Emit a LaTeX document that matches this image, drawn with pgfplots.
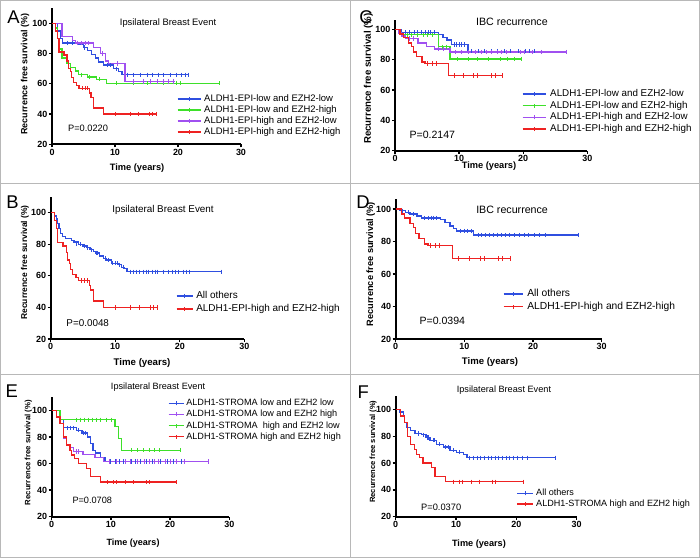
\documentclass[border=0pt]{standalone}
\usepackage{fontspec}
\setmainfont{Liberation Sans}
\usepackage{pgfplots}
\pgfplotsset{compat=1.18}
\definecolor{kmblue}{HTML}{2F4FE0}
\definecolor{kmgreen}{HTML}{3EE02A}
\definecolor{kmpurple}{HTML}{A050F0}
\definecolor{kmred}{HTML}{EE2222}
\definecolor{frame}{HTML}{B8B8B8}
\newcommand{\fs}[1]{\fontsize{#1}{#1}\selectfont}
\pgfplotsset{
 km/.style={
  scale only axis, anchor=south west,
  xmin=0,xmax=30,ymin=20,
  axis lines=left,
  axis line style={-, line width=1.9bp, black},
  xtick={0,10,20,30}, ytick={20,40,60,80,100},
  tick align=outside, major tick length=3bp,
  every tick/.style={black, line width=1.3bp},
  minor tick num=0,
  tick label style={font=\fs{9}\bfseries},
  /pgf/number format/assume math mode=true,
  xticklabel style={inner sep=1.5bp},
  yticklabel style={inner sep=1.5bp},
  every axis title shift=0pt,
  title style={anchor=center},
  xlabel style={anchor=center},
  ylabel style={anchor=center},
  clip=false,
  legend cell align=left,
  legend style={draw=none, fill=none, inner sep=0pt, outer sep=0pt, anchor=north west,
    nodes={inner sep=0pt, text height=7bp, text depth=2bp}},
 },
 kmleg/.style 2 args={
  legend image code/.code={\draw[##1] (0bp,0bp) -- (#1,0bp); \draw[##1,line width=0.9bp] (#1/2,-2bp) -- (#1/2,2bp);},
  legend style={column sep=#2},
 },
 kml/.style={const plot, line width=1.3bp, mark=none, color=#1},
 cens/.style={only marks, mark=|, mark size=2.1bp, mark options={line width=0.9bp}, color=#1, forget plot},
}
\begin{document}
\begin{tikzpicture}
\useasboundingbox (0,0) rectangle (700bp,-558bp);
\fill[white] (0,0) rectangle (700bp,-558bp);
\draw[frame, line width=1bp] (0.5bp,-0.5bp) rectangle (699.5bp,-557.5bp);
\draw[frame, line width=1bp] (0,-183bp) -- (700bp,-183bp);
\draw[frame, line width=1bp] (0,-374bp) -- (700bp,-374bp);
\draw[frame, line width=1bp] (350bp,0) -- (350bp,-558bp);

% ---------------- Panel A ----------------
\begin{axis}[km, at={(52bp,-144.3bp)}, width=189bp, height=136.1bp, ymax=110,
  kmleg={23bp}{3bp},
  title={\fs{9.4}Ipsilateral Breast Event}, title style={at={(axis description cs:0.614,0.891)}},
  xlabel={\fs{9.3}\bfseries Time (years)}, xlabel style={at={(axis description cs:0.45,0)}, yshift=-23.7bp},
  ylabel={\fs{9}\bfseries Recurrence free survival (\%)}, ylabel style={at={(axis description cs:-0.143,0.515)}},
  legend style={at={(axis description cs:0.661,0.366)}, row sep=2bp, font=\fs{9.5}},
]
\addplot[kml=kmblue] coordinates {(0,100)(0.9,95)(1.3,90)(1.7,87)(4.1,86)(5.0,84)(5.6,82)(6.3,79.5)(6.9,77)(7.4,74.5)(8.2,72.5)(9.8,70)(10.6,68)(11.1,66)(21.7,66)};
\addlegendentry{ALDH1-EPI-low and EZH2-low}
\addplot[kml=kmgreen] coordinates {(0,100)(0.5,97)(0.9,90)(1.2,83)(1.6,77)(2.4,73.5)(2.9,71)(3.7,68.5)(4.2,66)(5.6,64.5)(7.1,63)(8.7,60.3)(26.5,60.3)};
\addlegendentry{ALDH1-EPI-low and EZH2-high}
\addplot[kml=kmpurple] coordinates {(0,100)(1.6,91.5)(3.2,88.5)(3.7,87)(6.6,84)(7.7,80)(8.5,75)(9.0,73.5)(11.6,61.5)(19.6,61.5)};
\addlegendentry{ALDH1-EPI-high and EZH2-low}
\addplot[kml=kmred] coordinates {(0,100)(0.6,95)(0.9,90)(1.1,81)(1.9,79)(2.4,75)(2.6,70)(2.9,68)(3.1,64)(3.4,61)(3.9,59)(4.3,57)(6.0,54)(6.2,51)(6.6,44)(8.2,40)(16.6,40)};
\addlegendentry{ALDH1-EPI-high and EZH2-high}
\addplot[cens=kmblue] coordinates {(2.5,87)(3.2,87)(5.2,84)(8.8,72.5)(9.3,72.5)(10.2,70)(11.9,66)(13.0,66)(14.0,66)(15.1,66)(15.9,66)(16.9,66)(17.7,66)(18.8,66)(19.8,66)(20.6,66)(21.2,66)(21.7,66)};
\addplot[cens=kmgreen] coordinates {(4.6,66)(6.0,64.5)(7.5,63)(10.3,60.3)(13.0,60.3)(15.1,60.3)(17.7,60.3)(19.8,60.3)(20.4,60.3)(26.5,60.3)};
\addplot[cens=kmpurple] coordinates {(4.0,87)(4.6,87)(5.3,87)(5.8,87)(8.0,80)(10.4,73.5)(12.9,61.5)(14.5,61.5)(15.6,61.5)(16.7,61.5)(17.7,61.5)(18.5,61.5)(19.3,61.5)};
\addplot[cens=kmred] coordinates {(4.8,57)(5.3,57)(5.7,57)(10.0,40)(12.4,40)(13.8,40)(15.5,40)(15.9,40)(16.6,40)};
\node[anchor=west, font=\fs{9.3}] at (axis cs:2.0,30.8) {P=0.0220};
\end{axis}

% ---------------- Panel B ----------------
\begin{axis}[km, at={(50.7bp,-339bp)}, width=193.6bp, height=142.1bp, ymax=110,
  kmleg={16bp}{3bp},
  title={\fs{9.9}Ipsilateral Breast Event}, title style={at={(axis description cs:0.58,0.908)}},
  xlabel={\fs{9.7}\bfseries Time (years)}, xlabel style={at={(axis description cs:0.472,0)}, yshift=-23.7bp},
  ylabel={\fs{8.5}\bfseries Recurrence free survival (\%)}, ylabel style={at={(axis description cs:-0.133,0.539)}},
  legend style={at={(axis description cs:0.647,0.335)}, row sep=4bp, font=\fs{10}},
]
\addplot[kml=kmblue] coordinates {(0,100)(0.6,98)(0.9,96)(1.1,93)(1.3,90)(1.5,87)(1.8,85)(2.3,83.7)(3.2,82.5)(3.6,81.5)(4.3,80)(5.0,79)(5.5,78)(6.1,76.5)(6.6,75.5)(6.9,74.5)(7.6,72.5)(8.2,71)(8.7,70)(9.4,68)(10.5,67)(11.0,65.5)(11.4,64.5)(11.8,62.6)(26.5,62.6)};
\addlegendentry{All others}
\addplot[kml=kmred] coordinates {(0,100)(0.6,95)(0.9,90)(1.1,81)(1.9,79)(2.4,75)(2.6,70)(2.9,68)(3.1,64)(3.4,61)(3.9,59)(4.3,57)(6.0,54)(6.2,51)(6.6,44)(8.2,40)(16.6,40)};
\addlegendentry{ALDH1-EPI-high and EZH2-high}
\addplot[cens=kmblue] coordinates {(4.0,80)(4.6,80)(5.2,79)(5.7,78)(6.3,76.5)(7.1,74.5)(7.3,74.5)(8.5,71)(9.0,70)(9.6,68)(10.0,68)(10.3,68)(10.7,67)(11.2,65.5)(12.3,62.6)(12.8,62.6)(13.3,62.6)(13.8,62.6)(14.3,62.6)(14.8,62.6)(15.2,62.6)(15.7,62.6)(16.2,62.6)(16.6,62.6)(17.5,62.6)(18.2,62.6)(18.8,62.6)(19.3,62.6)(19.8,62.6)(20.5,62.6)(21.0,62.6)(21.5,62.6)(26.5,62.6)};
\addplot[cens=kmred] coordinates {(4.8,57)(5.3,57)(5.7,57)(10.0,40)(12.4,40)(13.8,40)(15.5,40)(15.9,40)(16.6,40)};
\node[anchor=west, font=\fs{9.9}] at (axis cs:1.9,30.3) {P=0.0048};
\end{axis}

% ---------------- Panel C ----------------
\begin{axis}[km, at={(395bp,-150.7bp)}, width=192.3bp, height=130.5bp, ymax=106,
  kmleg={23bp}{4bp},
  title={\fs{10.7}IBC recurrence}, title style={at={(axis description cs:0.608,0.986)}},
  xlabel={\fs{9.3}\bfseries Time (years)}, xlabel style={at={(axis description cs:0.489,0)}, yshift=-15.3bp},
  ylabel={\fs{9.7}\bfseries Recurrence free survival (\%)}, ylabel style={at={(axis description cs:-0.139,0.552)}},
  legend style={at={(axis description cs:0.660,0.469)}, row sep=2.7bp, font=\fs{9.85}},
]
\addplot[kml=kmblue] coordinates {(0,100)(1.0,98)(6.8,96.5)(7.5,94.5)(8.1,93)(8.8,90)(11.4,85.5)(21.8,85.5)};
\addlegendentry{ALDH1-EPI-low and EZH2-low}
\addplot[kml=kmgreen] coordinates {(0,100)(0.8,96.5)(6.8,88.5)(8.6,80.5)(19.8,80.5)};
\addlegendentry{ALDH1-EPI-low and EZH2-high}
\addplot[kml=kmpurple] coordinates {(0,100)(0.5,97.5)(1.0,95.5)(1.6,94)(3.6,91)(4.9,88.5)(6.2,87)(8.6,85)(26.8,85)};
\addlegendentry{ALDH1-EPI-high and EZH2-low}
\addplot[kml=kmred] coordinates {(0,100)(0.8,97)(1.3,94.5)(2.1,91)(2.6,88.5)(2.9,85)(3.4,82)(4.2,78.5)(4.7,77.5)(8.3,69.5)(16.7,69.5)};
\addlegendentry{ALDH1-EPI-high and EZH2-high}
\addplot[cens=kmblue] coordinates {(1.6,98)(2.2,98)(3.0,98)(3.5,98)(4.2,98)(4.8,98)(5.2,98)(5.6,98)(6.2,98)(9.2,90)(9.6,90)(10.0,90)(10.4,90)(10.8,90)(12.0,85.5)(13.0,85.5)(14.0,85.5)(15.0,85.5)(16.0,85.5)(17.0,85.5)(18.0,85.5)(19.2,85.5)(20.4,85.5)(21.0,85.5)(21.8,85.5)};
\addplot[cens=kmgreen] coordinates {(2.0,96.5)(2.6,96.5)(3.5,96.5)(4.4,96.5)(5.0,96.5)(5.9,96.5)(7.4,88.5)(8.0,88.5)(9.8,80.5)(11.5,80.5)(12.8,80.5)(14.5,80.5)(16.4,80.5)(17.6,80.5)(18.7,80.5)(19.8,80.5)};
\addplot[cens=kmpurple] coordinates {(2.3,94)(2.8,94)(6.8,87)(7.5,87)(9.5,85)(10.4,85)(11.5,85)(12.5,85)(13.5,85)(14.2,85)(15.0,85)(16.0,85)(16.6,85)(17.4,85)(19.5,85)(20.2,85)(21.5,85)(22.8,85)(26.8,85)};
\addplot[cens=kmred] coordinates {(5.0,77.5)(5.8,77.5)(6.4,77.5)(9.2,69.5)(10.7,69.5)(12.3,69.5)(12.9,69.5)(15.0,69.5)(15.6,69.5)(16.7,69.5)};
\node[anchor=west, font=\fs{10.6}] at (axis cs:1.72,30.3) {P=0.2147};
\end{axis}

% ---------------- Panel D ----------------
\begin{axis}[km, at={(395.7bp,-339bp)}, width=206bp, height=139.75bp, ymax=106,
  kmleg={19bp}{4bp},
  title={\fs{10.7}IBC recurrence}, title style={at={(axis description cs:0.565,0.923)}},
  xlabel={\fs{9.6}\bfseries Time (years)}, xlabel style={at={(axis description cs:0.458,0)}, yshift=-22.7bp},
  ylabel={\fs{9.25}\bfseries Recurrence free survival (\%)}, ylabel style={at={(axis description cs:-0.121,0.535)}},
  legend style={at={(axis description cs:0.521,0.354)}, row sep=3.7bp, font=\fs{10.3}},
]
\addplot[kml=kmblue] coordinates {(0,100)(0.6,99)(1.4,98)(2.1,97)(3.1,95.7)(3.8,94.5)(6.5,93.5)(7.2,91.5)(7.9,89.5)(8.4,88)(8.9,86.5)(11.3,84)(26.6,84)};
\addlegendentry{All others}
\addplot[kml=kmred] coordinates {(0,100)(0.8,97)(1.3,94.5)(2.1,91)(2.6,88.5)(2.9,85)(3.4,82)(4.2,78.5)(4.7,77.5)(8.3,69.5)(16.7,69.5)};
\addlegendentry{ALDH1-EPI-high and EZH2-high}
\addplot[cens=kmblue] coordinates {(1.0,99)(1.8,98)(2.6,97)(4.2,94.5)(4.7,94.5)(5.2,94.5)(5.5,94.5)(6.0,94.5)(9.5,86.5)(10.0,86.5)(10.5,86.5)(11.0,86.5)(12.0,84)(12.5,84)(13.0,84)(13.6,84)(14.2,84)(14.8,84)(15.4,84)(16.0,84)(16.6,84)(17.3,84)(18.0,84)(18.7,84)(19.4,84)(20.2,84)(21.0,84)(21.8,84)(26.6,84)};
\addplot[cens=kmred] coordinates {(5.0,77.5)(5.8,77.5)(6.4,77.5)(9.2,69.5)(10.7,69.5)(12.3,69.5)(12.9,69.5)(15.0,69.5)(15.6,69.5)(16.7,69.5)};
\node[anchor=west, font=\fs{10.6}] at (axis cs:2.96,31.1) {P=0.0394};
\end{axis}

% ---------------- Panel E ----------------
\begin{axis}[km, at={(51.7bp,-516.7bp)}, width=177.6bp, height=119.7bp, ymax=110,
  kmleg={15bp}{2bp},
  title={\fs{9.2}Ipsilateral Breast Event}, title style={at={(axis description cs:0.599,1.086)}},
  xlabel={\fs{9.05}\bfseries Time (years)}, xlabel style={at={(axis description cs:0.458,0)}, yshift=-26bp},
  ylabel={\fs{7.8}\bfseries Recurrence free survival (\%)}, ylabel style={at={(axis description cs:-0.132,0.536)}},
  legend style={at={(axis description cs:0.655,0.985)}, row sep=2.1bp, font=\fs{9.15}},
]
\addplot[kml=kmblue] coordinates {(0,100)(1.4,93)(2.0,87)(4.2,85)(5.1,83)(6.0,80)(6.5,75)(7.0,70)(7.4,68)(8.2,64.5)(9.0,61.5)(21.9,61.5)};
\addlegendentry{ALDH1-STROMA low and EZH2 low}
\addplot[kml=kmpurple] coordinates {(0,100)(0.8,95)(1.4,90)(2.0,79)(2.5,74.5)(3.1,72)(3.7,69)(5.3,67)(7.3,64.5)(8.7,61.5)(26.4,61.5)};
\addlegendentry{ALDH1-STROMA low and EZH2 high}
\addplot[kml=kmgreen] coordinates {(0,100)(1.4,93)(10.7,88)(11.3,79)(11.8,70)(21.7,70)};
\addlegendentry{ALDH1-STROMA\ \ high and EZH2 low}
\addplot[kml=kmred] coordinates {(0,100)(0.8,95)(1.4,90)(2.0,80)(2.5,74)(3.1,70)(3.4,66.5)(3.9,64)(4.5,60)(5.9,56.5)(6.5,50)(8.2,46)(21.1,46)};
\addlegendentry{ALDH1-STROMA high and EZH2 high}
\addplot[cens=kmblue] coordinates {(2.6,87)(3.2,87)(3.6,87)(4.6,85)(5.4,83)(5.7,83)(10.0,61.5)(10.8,61.5)(11.5,61.5)(12.2,61.5)(13.5,61.5)(14.2,61.5)(15.0,61.5)(16.0,61.5)(17.0,61.5)(18.3,61.5)(19.5,61.5)(20.5,61.5)(21.9,61.5)};
\addplot[cens=kmpurple] coordinates {(4.2,69)(4.6,69)(9.8,61.5)(11.0,61.5)(12.5,61.5)(13.3,61.5)(14.5,61.5)(15.6,61.5)(16.5,61.5)(17.3,61.5)(18.1,61.5)(19.2,61.5)(20.1,61.5)(21.0,61.5)(22.5,61.5)(26.4,61.5)};
\addplot[cens=kmgreen] coordinates {(4.2,93)(4.8,93)(5.5,93)(6.2,93)(6.9,93)(7.6,93)(8.3,93)(9.2,93)(10.1,93)(13.5,70)(14.5,70)(15.5,70)(16.5,70)(17.4,70)(18.2,70)(21.7,70)};
\addplot[cens=kmred] coordinates {(9.5,46)(10.5,46)(11.0,46)(12.5,46)(13.8,46)(16.0,46)(16.5,46)(21.1,46)};
\node[anchor=west, font=\fs{9.2}] at (axis cs:2.92,32.6) {P=0.0708};
\end{axis}

% ---------------- Panel F ----------------
\begin{axis}[km, at={(395.7bp,-516.7bp)}, width=181bp, height=120.8bp, ymax=110,
  kmleg={16bp}{2.3bp},
  title={\fs{9.2}Ipsilateral Breast Event}, title style={at={(axis description cs:0.598,1.049)}},
  xlabel={\fs{9.2}\bfseries Time (years)}, xlabel style={at={(axis description cs:0.46,0)}, yshift=-27.3bp},
  ylabel={\fs{7.6}\bfseries Recurrence free survival (\%)}, ylabel style={at={(axis description cs:-0.124,0.538)}},
  legend style={at={(axis description cs:0.668,0.231)}, row sep=1.7bp, font=\fs{9.1}},
]
\addplot[kml=kmblue] coordinates {(0,100)(0.7,98)(1.3,95.5)(1.5,90)(1.8,86.5)(2.4,84)(3.2,82)(4.3,81)(5.0,79)(5.7,77)(6.8,74)(7.9,72)(9.0,69.5)(10.1,68)(11.2,66.5)(11.8,64)(26.4,64)};
\addlegendentry{All others}
\addplot[kml=kmred] coordinates {(0,100)(0.8,95)(1.4,90)(2.0,80)(2.5,74)(3.1,70)(3.4,66.5)(3.9,64)(4.5,60)(5.9,56.5)(6.5,50)(8.2,46)(21.1,46)};
\addlegendentry{ALDH1-STROMA high and EZH2 high}
\addplot[cens=kmblue] coordinates {(3.8,82)(4.6,81)(5.2,79)(5.5,79)(6.2,77)(6.5,77)(7.3,74)(8.3,72)(8.7,72)(9.5,69.5)(10.5,68)(12.3,64)(12.9,64)(13.5,64)(14.1,64)(14.7,64)(15.3,64)(15.9,64)(16.5,64)(17.1,64)(17.7,64)(18.3,64)(18.9,64)(19.5,64)(20.2,64)(21.0,64)(21.8,64)(26.4,64)};
\addplot[cens=kmred] coordinates {(9.5,46)(10.5,46)(11.0,46)(12.5,46)(13.8,46)(16.0,46)(16.5,46)(21.1,46)};
\node[anchor=west, font=\fs{9.3}] at (axis cs:3.65,26.7) {P=0.0370};
\end{axis}

% panel letters
\node[anchor=base, font=\fs{18.5}] at (13.5bp,-23bp) {A};
\node[anchor=base, font=\fs{18.5}] at (12.5bp,-208bp) {B};
\node[anchor=base, font=\fs{18.5}] at (366bp,-23bp) {C};
\node[anchor=base, font=\fs{18.5}] at (363bp,-208bp) {D};
\node[anchor=base, font=\fs{18.5}] at (11.7bp,-397bp) {E};
\node[anchor=base, font=\fs{18.5}] at (363.3bp,-398bp) {F};
\end{tikzpicture}
\end{document}
